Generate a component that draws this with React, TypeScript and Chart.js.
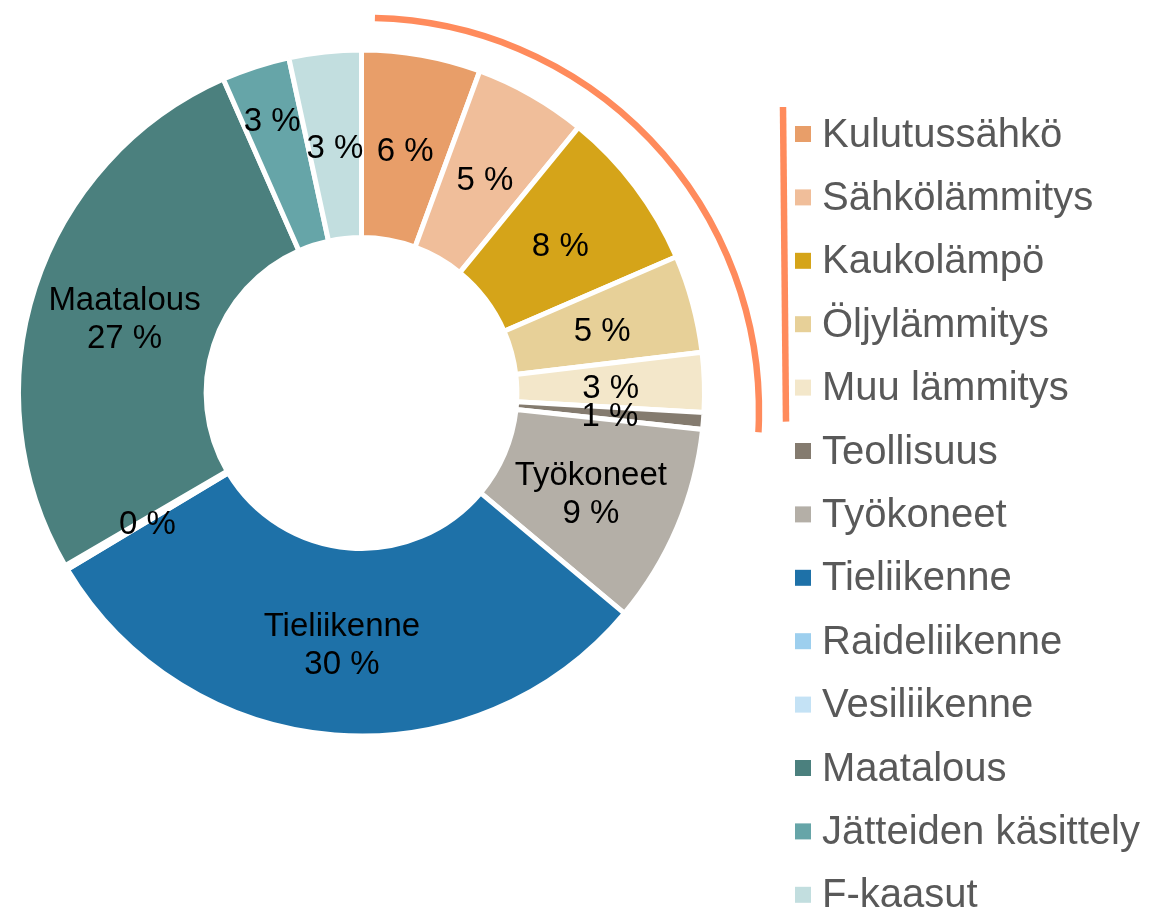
import React, { useEffect, useRef } from "react";
import { Chart, registerables } from "chart.js";

Chart.register(...registerables);

const categories = [
  "Kulutussähkö",
  "Sähkölämmitys",
  "Kaukolämpö",
  "Öljylämmitys",
  "Muu lämmitys",
  "Teollisuus",
  "Työkoneet",
  "Tieliikenne",
  "Raideliikenne",
  "Vesiliikenne",
  "Maatalous",
  "Jätteiden käsittely",
  "F-kaasut",
];

const values = [5.6, 5.3, 7.6, 4.6, 2.8, 0.8, 9.4, 30.3, 0.1, 0.1, 26.8, 3.2, 3.4];

const colors = [
  "#E89E69",
  "#F0BE9A",
  "#D5A419",
  "#E7D098",
  "#F3E7CA",
  "#847B6F",
  "#B4AFA7",
  "#1E71A8",
  "#9DCFEE",
  "#C4E2F5",
  "#4B807E",
  "#66A5A8",
  "#C2DEDF",
];

// slices whose label shows the category name as well as the percentage
const namedSlices = ["Työkoneet", "Tieliikenne", "Maatalous"];
// slices whose label is not drawn (it would sit on top of another one)
const unlabelledSlices = ["Vesiliikenne"];
// categories grouped by the orange bracket
const bracketed = ["Kulutussähkö", "Sähkölämmitys", "Kaukolämpö", "Öljylämmitys", "Muu lämmitys"];

const FONT = "'Liberation Sans', Arial, Helvetica, sans-serif";
const ACCENT = "#FF8B5C";

// style: radial nudge (px) for labels moved outward
const labelNudge: Record<string, number> = { "Jätteiden käsittely": 40 };

const legendLayout = { boxX: 795, boxSize: 16, textX: 822, firstCenter: 134, step: 63.4, fontSize: 40 };

const sliceLabelPlugin = {
  id: "sliceLabels",
  afterDatasetsDraw(chart: any) {
    const ctx = chart.ctx;
    const meta = chart.getDatasetMeta(0);
    const total = values.reduce((a, b) => a + b, 0);
    ctx.save();
    ctx.fillStyle = "#000000";
    ctx.font = `33px ${FONT}`;
    ctx.textAlign = "center";
    ctx.textBaseline = "middle";
    meta.data.forEach((arc: any, i: number) => {
      const name = categories[i];
      if (unlabelledSlices.includes(name)) return;
      let { x, y } = arc.tooltipPosition();
      const nudge = labelNudge[name] || 0;
      if (nudge) {
        const mid = (arc.startAngle + arc.endAngle) / 2;
        x += Math.cos(mid) * nudge;
        y += Math.sin(mid) * nudge;
      }
      const pct = `${Math.round((values[i] / total) * 100)} %`;
      const lines = namedSlices.includes(name) ? [name, pct] : [pct];
      const lh = 38;
      const y0 = y - ((lines.length - 1) * lh) / 2;
      lines.forEach((t, k) => ctx.fillText(t, x, y0 + k * lh + 4));
    });
    ctx.restore();
  },
};

const legendPlugin = {
  id: "customLegend",
  afterDraw(chart: any) {
    const ctx = chart.ctx;
    const L = legendLayout;
    ctx.save();
    ctx.font = `${L.fontSize}px ${FONT}`;
    ctx.textAlign = "left";
    ctx.textBaseline = "alphabetic";
    categories.forEach((c, i) => {
      const cy = L.firstCenter + i * L.step;
      ctx.fillStyle = colors[i];
      ctx.fillRect(L.boxX, cy - L.boxSize / 2, L.boxSize, L.boxSize);
      ctx.fillStyle = "#595959";
      ctx.fillText(c, L.textX, cy + 12.5);
    });

    // orange bracket: vertical line next to the grouped legend entries
    const firstIdx = categories.indexOf(bracketed[0]);
    const lastIdx = categories.indexOf(bracketed[bracketed.length - 1]);
    ctx.strokeStyle = ACCENT;
    ctx.lineWidth = 6.5;
    ctx.lineCap = "butt";
    ctx.beginPath();
    ctx.moveTo(783, L.firstCenter + firstIdx * L.step - 27);
    ctx.lineTo(786, L.firstCenter + lastIdx * L.step + 34);
    ctx.stroke();

    // orange arc around the grouped slices
    const meta = chart.getDatasetMeta(0);
    const arc0 = meta.data[0];
    const cx = arc0.x + 4.5;
    const cy = arc0.y + 18;
    ctx.beginPath();
    ctx.arc(cx, cy, 393, (-88.7 * Math.PI) / 180, (3.1 * Math.PI) / 180);
    ctx.stroke();
    ctx.restore();
  },
};

export default function App() {
  const ref = useRef<HTMLCanvasElement | null>(null);
  useEffect(() => {
    if (!ref.current) return;
    Chart.defaults.font.family = FONT;
    const chart = new Chart(ref.current, {
      type: "doughnut",
      data: {
        labels: categories,
        datasets: [
          {
            data: values,
            backgroundColor: colors,
            borderColor: "#FFFFFF",
            borderWidth: 5,
            hoverOffset: 0,
          },
        ],
      },
      options: {
        responsive: false,
        animation: false,
        events: [],
        cutout: "45.3%",
        layout: { padding: { left: 16, top: 47.5, right: 443, bottom: 172.5 } },
        plugins: {
          legend: { display: false },
          tooltip: { enabled: false },
          title: { display: false },
        },
      },
      plugins: [sliceLabelPlugin, legendPlugin],
    });
    return () => chart.destroy();
  }, []);
  return (
    <div style={{ position: "absolute", left: 0, top: 0, width: 1150, height: 911, background: "#fff" }}>
      <canvas ref={ref} width={1150} height={911} style={{ display: "block" }} />
    </div>
  );
}
